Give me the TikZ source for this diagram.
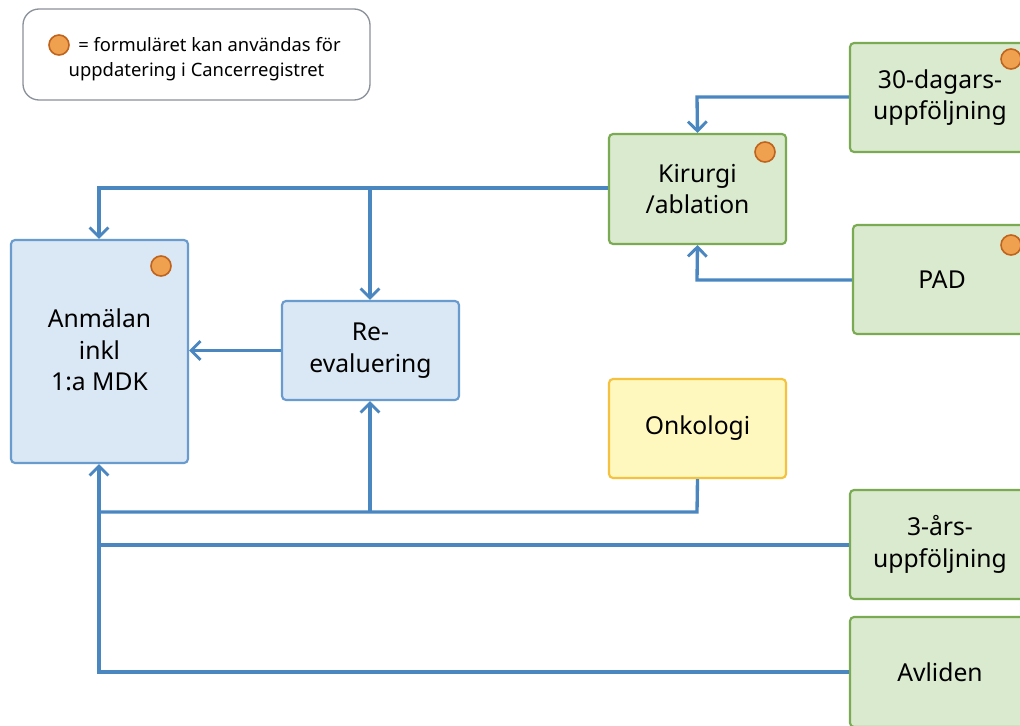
\documentclass[tikz,border=0pt]{standalone}
\usepackage{fontspec}
\setmainfont{Noto Sans}
\usetikzlibrary{arrows.meta}
\definecolor{linecol}{HTML}{4A86C0}
\definecolor{bluefill}{HTML}{DAE7F4}
\definecolor{blueedge}{HTML}{6A9BCF}
\definecolor{greenfill}{HTML}{DAEACF}
\definecolor{greenedge}{HTML}{7AAA52}
\definecolor{yelfill}{HTML}{FFF8BE}
\definecolor{yeledge}{HTML}{F5C240}
\definecolor{dotfill}{HTML}{F0A150}
\definecolor{dotedge}{HTML}{C0631C}
\definecolor{legedge}{HTML}{8A9199}
\tikzset{
  boxfont/.style={font=\fontsize{18.5}{23.5}\selectfont},
  box/.style={draw, line width=1.6pt, rounded corners=3pt, align=center,
    boxfont, inner sep=0pt},
  bluebox/.style={box, fill=bluefill, draw=blueedge},
  greenbox/.style={box, fill=greenfill, draw=greenedge},
  yelbox/.style={box, fill=yelfill, draw=yeledge},
  dot/.style={circle, draw=dotedge, fill=dotfill, line width=1.2pt, minimum size=15pt, inner sep=0pt},
  conn/.style={draw=linecol, line width=2.5pt},
  arr/.style={conn, -{Straight Barb[length=7pt,width=14pt,line width=2.2pt]}},
  legfont/.style={font=\fontsize{13.8}{19.5}\selectfont},
}
\begin{document}
\begin{tikzpicture}[x=0.75pt,y=-0.75pt]
\useasboundingbox (0,0) rectangle (1020,725);
\clip (0,0) rectangle (1020,725);
% legend
\node[draw=legedge, line width=1pt, rounded corners=12pt, minimum width=347*0.75pt, minimum height=91*0.75pt] (legend) at (196.5,54.5) {};
\node[dot] (legdot) at (59,45) {};
\node[anchor=west, legfont, inner sep=0pt] (legt1) at (78,45) {= formuläret kan användas för};
\node[legfont, inner sep=0pt] (legt2) at (196.5,72) {uppdatering i Cancerregistret};
% boxes
\node[bluebox, minimum width=177*0.75pt, minimum height=223*0.75pt] (anm) at (99.5,351.5) {};
\node[boxfont, align=center] (anmt) at (99.5,350) {Anmälan\\inkl\\1:a MDK};
\node[dot] (anmdot) at (161,266) {};
\node[bluebox, minimum width=177*0.75pt, minimum height=99*0.75pt] (reev) at (370.5,350.5) {Re-\\evaluering};
\node[greenbox, minimum width=177*0.75pt, minimum height=110*0.75pt] (kir) at (697.5,189) {Kirurgi\\/ablation};
\node[dot] (kirdot) at (765,152) {};
\node[greenbox, minimum width=180*0.75pt, minimum height=109*0.75pt] (d30) at (940,97.5) {30-dagars-\\uppföljning};
\node[dot] (d30dot) at (1011,59) {};
\node[greenbox, minimum width=178*0.75pt, minimum height=109*0.75pt] (pad) at (942,279.5) {PAD};
\node[dot] (paddot) at (1011,245) {};
\node[yelbox, minimum width=177*0.75pt, minimum height=99*0.75pt] (onk) at (697.5,428.5) {Onkologi};
\node[greenbox, minimum width=180*0.75pt, minimum height=109*0.75pt] (ar3) at (940,544.5) {3-års-\\uppföljning};
\node[greenbox, minimum width=180*0.75pt, minimum height=110*0.75pt] (avl) at (940,672) {Avliden};
% junction coordinates
\coordinate (j30) at (697,97);
\coordinate (jpad) at (697,280);
\coordinate (jk1) at (370,188);
\coordinate (jk2) at (99,188);
\coordinate (jo1) at (697,512);
\coordinate (jo2) at (370,512);
\coordinate (jo3) at (99,512);
\coordinate (j3a) at (99,545);
\coordinate (javl) at (99,672);
% connectors
\draw[arr] (d30.west |- j30) -- (j30) -- (kir.north);
\draw[arr] (pad.west |- jpad) -- (jpad) -- (kir.south);
\draw[arr] (kir.west |- jk2) -- (jk2) -- (anm.north -| jk2);
\draw[arr] (jk1) -- (reev.north -| jk1);
\draw[arr] (reev.west) -- (anm.east |- reev.west);
\draw[conn] (onk.south) -- (jo1) -- (jo3);
\draw[arr] (jo2) -- (reev.south -| jo2);
\draw[conn] (ar3.west |- j3a) -- (j3a);
\draw[arr] (avl.west |- javl) -- (javl) -- (anm.south -| javl);
\end{tikzpicture}
\end{document}
